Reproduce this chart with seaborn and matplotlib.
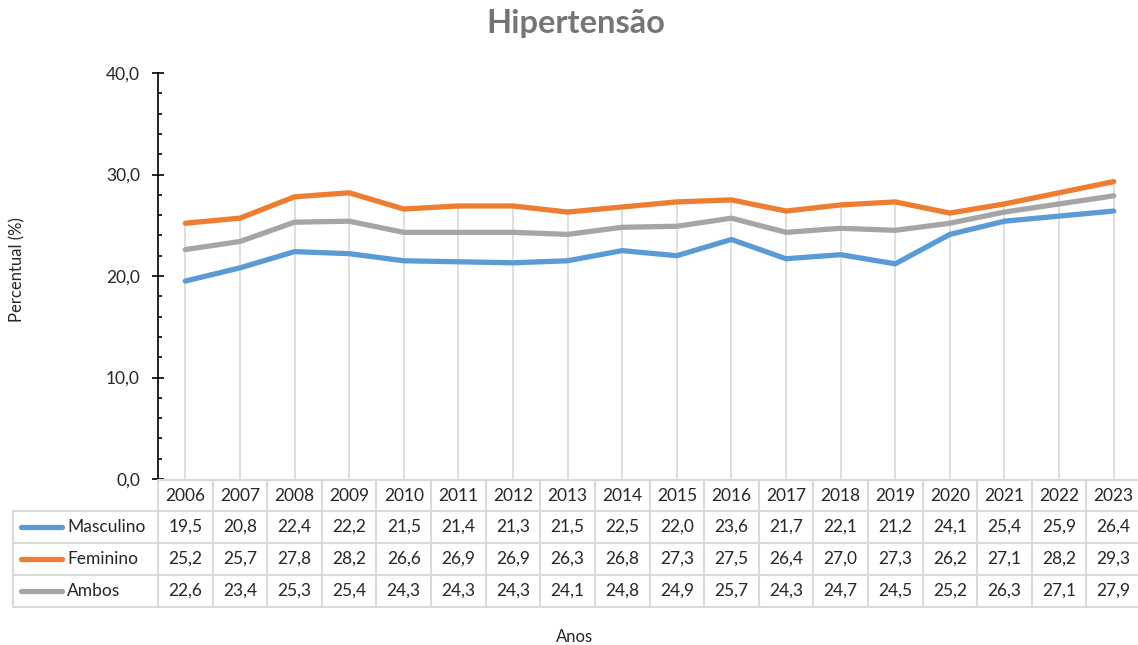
import numpy as np
import pandas as pd
import matplotlib
matplotlib.use("Agg")
import matplotlib.pyplot as plt
import matplotlib.transforms as mtransforms
from matplotlib.ticker import MultipleLocator, FuncFormatter
import seaborn as sns

anos = [2006, 2007, 2008, 2009, 2010, 2011, 2012, 2013, 2014,
        2015, 2016, 2017, 2018, 2019, 2020, 2021, 2022, 2023]
masculino = [19.5, 20.8, 22.4, 22.2, 21.5, 21.4, 21.3, 21.5, 22.5,
             22.0, 23.6, 21.7, 22.1, 21.2, 24.1, 25.4, 25.9, 26.4]
feminino = [25.2, 25.7, 27.8, 28.2, 26.6, 26.9, 26.9, 26.3, 26.8,
            27.3, 27.5, 26.4, 27.0, 27.3, 26.2, 27.1, 28.2, 29.3]
ambos = [22.6, 23.4, 25.3, 25.4, 24.3, 24.3, 24.3, 24.1, 24.8,
         24.9, 25.7, 24.3, 24.7, 24.5, 25.2, 26.3, 27.1, 27.9]
series = ["Masculino", "Feminino", "Ambos"]
cores = {"Masculino": "#5B9BD5", "Feminino": "#ED7D31", "Ambos": "#A5A5A5"}

sns.set_theme(style="white")
plt.rcParams["font.family"] = ["Lato", "DejaVu Sans"]

W, H = 1138, 645
fig = plt.figure(figsize=(W / 100, H / 100), dpi=100)

# area do grafico em pixels
left, right, top, bottom = 158, 1141, 73, 479
ax = fig.add_axes([left / W, 1 - bottom / H, (right - left) / W, (bottom - top) / H])

idx = np.arange(len(anos))
df = pd.DataFrame({
    "idx": np.tile(idx, 3),
    "valor": masculino + feminino + ambos,
    "serie": np.repeat(series, len(anos)),
})

# linhas de queda da serie mais alta ate zero
topo = np.max([masculino, feminino, ambos], axis=0)
ax.vlines(idx, 0, topo, color="#dcdcdc", lw=1.3, zorder=1)

sns.lineplot(data=df, x="idx", y="valor", hue="serie", palette=cores,
             linewidth=3.8, legend=False, ax=ax, zorder=3,
             solid_capstyle="round")

ax.set_xlim(-0.5, len(anos) - 0.5)
ax.set_ylim(0, 40)
ax.yaxis.set_major_locator(MultipleLocator(10))
ax.yaxis.set_minor_locator(MultipleLocator(2))
ax.yaxis.set_major_formatter(FuncFormatter(lambda v, p: f"{v:.1f}".replace(".", ",")))
ax.tick_params(axis="y", which="major", direction="inout", length=8, width=1.2,
               color="black", labelsize=12.5, labelcolor="#262626", pad=9, left=True)
ax.tick_params(axis="y", which="minor", direction="in", length=3, width=1.2,
               color="black", left=True)
ax.set_xticks([])
ax.set_xlabel("")
ax.set_ylabel("")
for s in ["top", "right", "bottom"]:
    ax.spines[s].set_visible(False)
ax.spines["left"].set_color("black")
ax.spines["left"].set_linewidth(1.2)

# tabela de dados
txt = "#262626"
grid = "#d9d9d9"
fs = 12.5
trans = mtransforms.blended_transform_factory(ax.transData, fig.transFigure)
fy = lambda py: 1 - py / H
fx = lambda px: px / W
rows_y = [480, 511, 543, 575, 607]

for i, a in enumerate(anos):
    ax.text(i, fy(496), str(a), transform=trans, ha="center", va="center",
            fontsize=fs, color=txt, clip_on=False)
    for r, vals in enumerate([masculino, feminino, ambos]):
        ax.text(i, fy((rows_y[r + 1] + rows_y[r + 2]) / 2), f"{vals[i]:.1f}".replace(".", ","),
                transform=trans, ha="center", va="center", fontsize=fs,
                color=txt, clip_on=False)

for r, nome in enumerate(series):
    yc = fy((rows_y[r + 1] + rows_y[r + 2]) / 2)
    fig.add_artist(plt.Line2D([fx(21), fx(62)], [yc, yc], color=cores[nome], lw=3.8,
                              solid_capstyle="round"))
    fig.text(fx(67), yc, nome, ha="left", va="center", fontsize=fs, color=txt)

# bordas
fig.add_artist(plt.Line2D([fx(left), fx(right)], [fy(480), fy(480)], color=grid, lw=1.5))
for py in rows_y[1:]:
    fig.add_artist(plt.Line2D([fx(13), fx(right)], [fy(py), fy(py)], color=grid, lw=1.5))
fig.add_artist(plt.Line2D([fx(13), fx(13)], [fy(511), fy(607)], color=grid, lw=1.5))
for b in np.arange(len(anos) + 1) - 0.5:
    ax.plot([b, b], [fy(480), fy(607)], transform=trans, color=grid, lw=1.5, clip_on=False)

fig.text(fx(576), fy(24), "Hipertensão", ha="center", va="center",
         fontsize=23.5, fontweight="bold", color="#757575")
fig.text(fx(17), fy(270), "Percentual (%)", ha="center", va="center",
         rotation=90, fontsize=12, color=txt)
fig.text(fx(575), fy(637), "Anos", ha="center", va="center", fontsize=12, color=txt)

fig.savefig("out.png", dpi=100, facecolor="white")
